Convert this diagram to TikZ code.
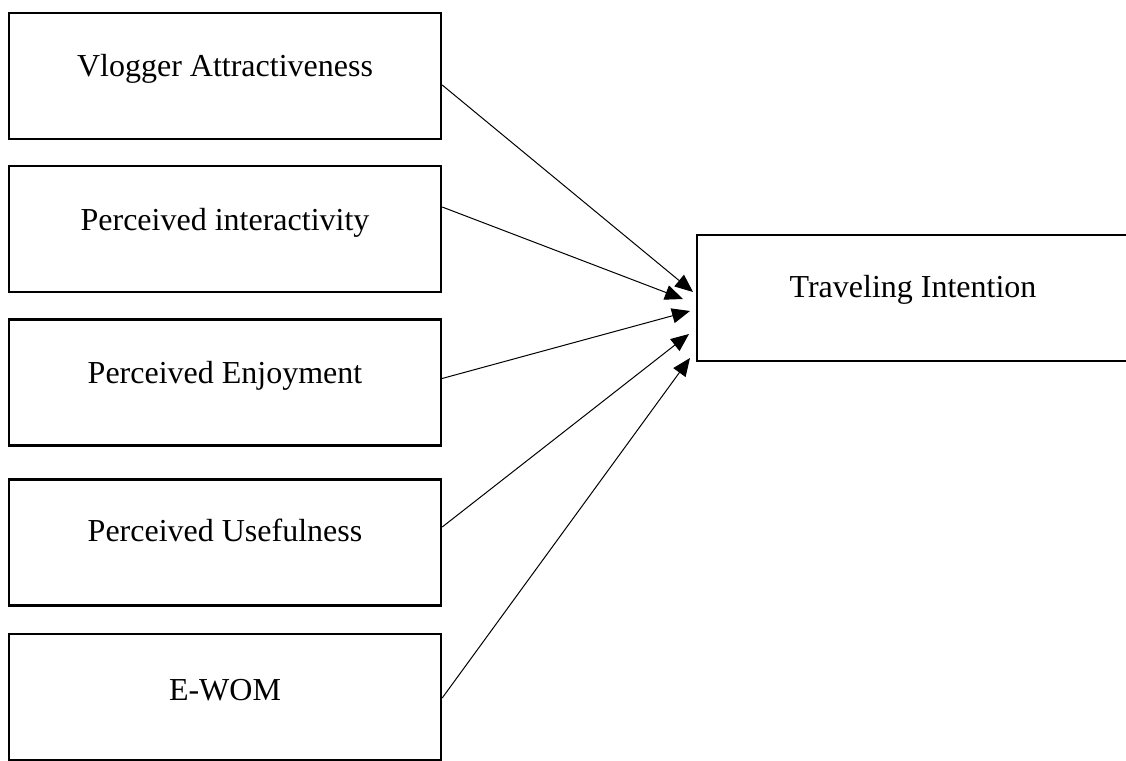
\documentclass[tikz,border=0pt]{standalone}
\usepackage{fontspec}
\setmainfont{Liberation Serif}
\usetikzlibrary{arrows.meta}
\begin{document}
\begin{tikzpicture}[x=1pt,y=-1pt,
  box/.style={draw,line width=2.4pt,minimum width=432pt,minimum height=126pt,inner sep=0pt},
  lbl/.style={anchor=base,inner sep=0pt,font=\fontsize{32}{38}\selectfont},
  arr/.style={line width=1pt,-{Triangle[length=18pt,width=15pt]}}]
\useasboundingbox (0,0) rectangle (1126,760);
\node[box] (b1) at (225,76) {};
\node[box] (b2) at (225,229) {};
\node[box] (b3) at (225,382.5) {};
\node[box] (b4) at (225,542.5) {};
\node[box] (b5) at (225,697) {};
\node[box] (T) at (913,298) {};
\node[lbl] (l1) at (225,77) {Vlogger Attractiveness};
\node[lbl] (l2) at (225,230) {Perceived interactivity};
\node[lbl] (l3) at (225,383) {Perceived Enjoyment};
\node[lbl] (l4) at (225,541) {Perceived Usefulness};
\node[lbl] (l5) at (225,700) {E-WOM};
\node[lbl] (lT) at (913,297) {Traveling Intention};
\coordinate (t1) at (693,292);
\coordinate (t2) at (683,299);
\coordinate (t3) at (690,311);
\coordinate (t4) at (689,334);
\coordinate (t5) at (690,358);
\draw[arr] ([yshift=-9pt]b1.east) -- (t1);
\draw[arr] ([yshift=22pt]b2.east) -- (t2);
\draw[arr] ([yshift=3.5pt,xshift=-2pt]b3.east) -- (t3);
\draw[arr] ([yshift=15.5pt]b4.east) -- (t4);
\draw[arr] ([yshift=-1pt]b5.east) -- (t5);
\end{tikzpicture}
\end{document}
